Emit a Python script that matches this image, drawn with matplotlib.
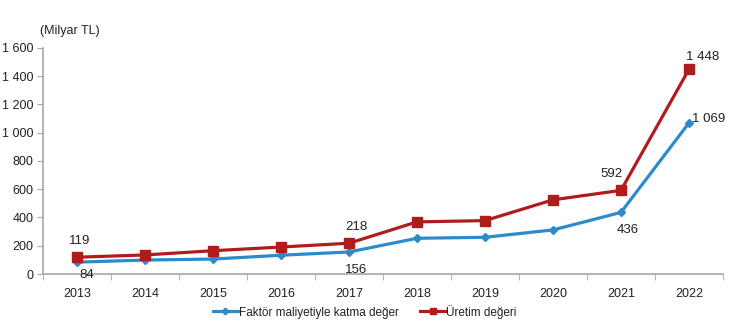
import matplotlib
matplotlib.use("Agg")
import matplotlib.pyplot as plt
from matplotlib.ticker import FuncFormatter

plt.rcParams['font.family'] = ['Liberation Sans', 'DejaVu Sans']

years = ["2013", "2014", "2015", "2016", "2017", "2018", "2019", "2020", "2021", "2022"]
faktor = [84, 99, 106, 133, 156, 253, 260, 312, 436, 1069]
uretim = [119, 135, 165, 191, 218, 369, 378, 525, 592, 1448]
series_names = ["Faktör maliyetiyle katma değer", "Üretim değeri"]
yticks = [0, 200, 400, 600, 800, 1000, 1200, 1400, 1600]

blue = "#2E8BCB"
red = "#B01C1C"
grey = "#A6A6A6"
txt = "#222222"

fig = plt.figure(figsize=(7.43, 3.35), dpi=100)
ax = fig.add_axes([0.058, 0.182, 0.915, 0.675])
x = list(range(len(years)))

ax.plot(x, faktor, color=blue, lw=2.3, marker="D", ms=4.5, label=series_names[0], zorder=3)
ax.plot(x, uretim, color=red, lw=2.3, marker="s", ms=6.5, label=series_names[1], zorder=3)

ax.set_xlim(-0.5, len(years) - 0.5)
ax.set_ylim(0, 1600)
ax.set_yticks(yticks)
ax.yaxis.set_major_formatter(FuncFormatter(lambda v, p: f"{int(v):,}".replace(",", " ")))
ax.set_xticks(x)
ax.set_xticklabels(years)
ax.set_xticks([i - 0.5 for i in range(len(years) + 1)], minor=True)
ax.tick_params(axis="x", which="major", length=0, pad=10, labelsize=9, labelcolor=txt)
ax.tick_params(axis="x", which="minor", length=4, color=grey)
ax.tick_params(axis="y", length=4, color=grey, labelsize=9, pad=3, labelcolor=txt)

for s in ["top", "right"]:
    ax.spines[s].set_visible(False)
for s in ["left", "bottom"]:
    ax.spines[s].set_color(grey)
    ax.spines[s].set_linewidth(1.2)

def fmt(v):
    return f"{v:,}".replace(",", " ")

fs = 9.5
ann = [
    (0, uretim[0], fmt(uretim[0]), (2, 12), "center", "center"),
    (0, faktor[0], fmt(faktor[0]), (7, -9), "center", "center"),
    (4, uretim[4], fmt(uretim[4]), (5, 12), "center", "center"),
    (4, faktor[4], fmt(faktor[4]), (5, -13), "center", "center"),
    (8, uretim[8], fmt(uretim[8]), (-7, 12), "center", "center"),
    (8, faktor[8], fmt(faktor[8]), (5, -13), "center", "center"),
    (9, uretim[9], fmt(uretim[9]), (10, 9), "center", "center"),
    (9, faktor[9], fmt(faktor[9]), (14, 3), "center", "center"),
]
for xi, yi, t, off, ha, va in ann:
    ax.annotate(t, (xi, yi), xytext=off, textcoords="offset points",
                ha=ha, va=va, fontsize=fs, color=txt)

fig.text(0.054, 0.908, "(Milyar TL)", fontsize=9, color=txt, ha="left", va="center")

leg = fig.legend(loc="center", bbox_to_anchor=(0.491, 0.07), ncol=2, frameon=False,
                 fontsize=8.5, handlelength=2.1, handletextpad=0.1, columnspacing=1.8,
                 markerscale=0.75)
for t in leg.get_texts():
    t.set_color(txt)

fig.savefig("out.png", dpi=100)
